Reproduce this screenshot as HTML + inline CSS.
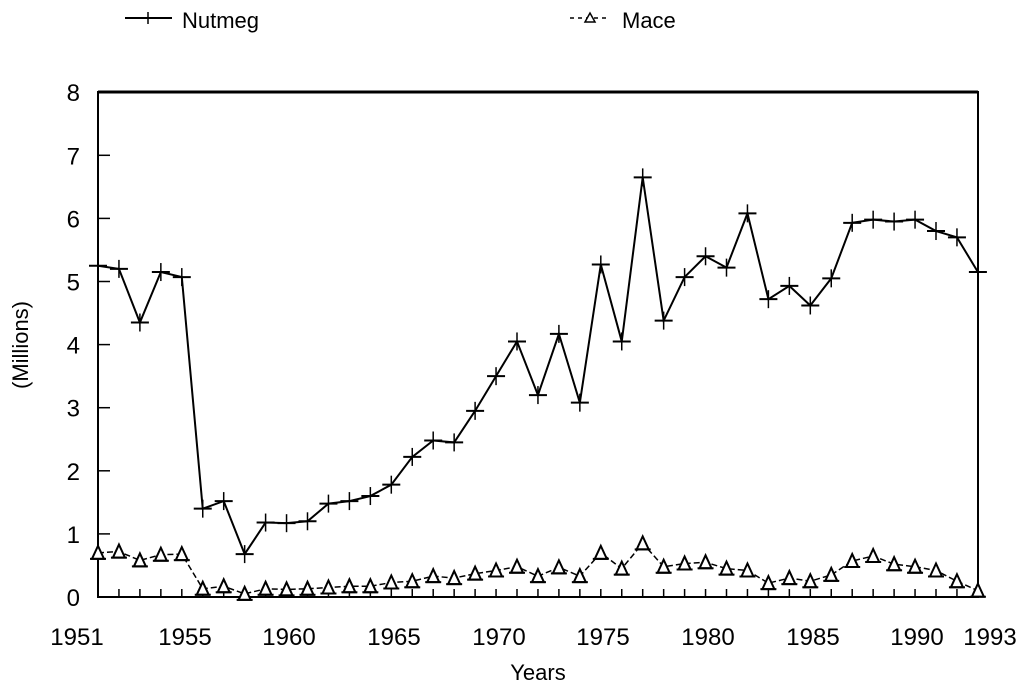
<!DOCTYPE html>
<html><head><meta charset="utf-8"><style>
html,body{margin:0;padding:0;background:#fff;width:1028px;height:698px;overflow:hidden}
svg text{font-family:"Liberation Sans",sans-serif;fill:#000}
</style></head><body>
<svg id="s" width="1028" height="698" xmlns="http://www.w3.org/2000/svg">
<rect width="1028" height="698" fill="#fff"/>
<line x1="125" y1="18" x2="172" y2="18" stroke="#000" stroke-width="2"/>
<line x1="148" y1="12" x2="148" y2="24" stroke="#000" stroke-width="1.5"/>
<text x="182" y="28" font-size="22">Nutmeg</text>
<line x1="570" y1="18" x2="610" y2="18" stroke="#000" stroke-width="1.5" stroke-dasharray="4 4"/>
<path d="M585 22L590 13L595 22Z" fill="#fff" stroke="#000" stroke-width="1.5"/>
<text x="622" y="28" font-size="22">Mace</text>
<rect x="98" y="92" width="880" height="505" fill="none" stroke="#000" stroke-width="2"/>
<line x1="98" y1="92" x2="978" y2="92" stroke="#000" stroke-width="3"/>
<g id="g"></g>
<text x="0" y="0" font-size="22" transform="translate(28,345) rotate(-90)" text-anchor="middle">(Millions)</text>
<text x="538" y="680" font-size="22" text-anchor="middle">Years</text>
</svg>
<script>
var g=document.getElementById('g'),h='';
function X(y){return 98+(y-1951)*20.95}
function Y(v){return 597-v*63.1}
for(var i=0;i<=8;i++){h+='<text x="80" y="'+(Y(i)+9)+'" font-size="24" text-anchor="end">'+i+'</text>';
 if(i>0&&i<8)h+='<line x1="98" y1="'+Y(i)+'" x2="110" y2="'+Y(i)+'" stroke="#000" stroke-width="1.5"/>';}
for(var y=1952;y<1993;y++)h+='<line x1="'+X(y)+'" y1="597" x2="'+X(y)+'" y2="589" stroke="#000" stroke-width="1.5"/>';
var labs=[[1951,77],[1955,185],[1960,289],[1965,394],[1970,499],[1975,603],[1980,708],[1985,813],[1990,917],[1993,990]];
labs.forEach(function(l){h+='<text x="'+l[1]+'" y="645" font-size="24" text-anchor="middle">'+l[0]+'</text>'});
var n=[5.25,5.2,4.35,5.15,5.07,1.4,1.52,0.68,1.18,1.17,1.2,1.48,1.52,1.6,1.78,2.22,2.48,2.45,2.95,3.5,4.05,3.2,4.17,3.08,5.27,4.05,6.65,4.38,5.07,5.4,5.22,6.08,4.72,4.93,4.62,5.05,5.93,5.98,5.95,5.98,5.8,5.7,5.15];
var m=[.7,.72,.58,.67,.68,.13,.17,.05,.13,.12,.13,.15,.17,.17,.23,.25,.33,.3,.37,.42,.48,.33,.47,.33,.7,.45,.85,.48,.53,.55,.45,.42,.22,.3,.25,.35,.57,.65,.52,.48,.42,.25,.1];
var p='',q='';
n.forEach(function(v,i){var x=X(1951+i),yy=Y(v);p+=(i?'L':'M')+x+' '+yy;
 h+='<line x1="'+(x-9)+'" y1="'+yy+'" x2="'+(x+9)+'" y2="'+yy+'" stroke="#000" stroke-width="2"/><line x1="'+x+'" y1="'+(yy-9)+'" x2="'+x+'" y2="'+(yy+9)+'" stroke="#000" stroke-width="1.5"/>';});
m.forEach(function(v,i){var x=X(1951+i),yy=Y(v);q+=(i?'L':'M')+x+' '+yy;
 h+='<path d="M'+(x-6)+' '+(yy+6)+'L'+x+' '+(yy-7)+'L'+(x+6)+' '+(yy+6)+'Z" fill="#fff" stroke="#000" stroke-width="2"/><line x1="'+(x-8)+'" y1="'+(yy+6)+'" x2="'+(x+8)+'" y2="'+(yy+6)+'" stroke="#000" stroke-width="2"/>';});
g.innerHTML='<path d="'+p+'" fill="none" stroke="#000" stroke-width="2"/><path d="'+q+'" fill="none" stroke="#000" stroke-width="1.5" stroke-dasharray="6 3"/>'+h;
</script>
</body></html>
